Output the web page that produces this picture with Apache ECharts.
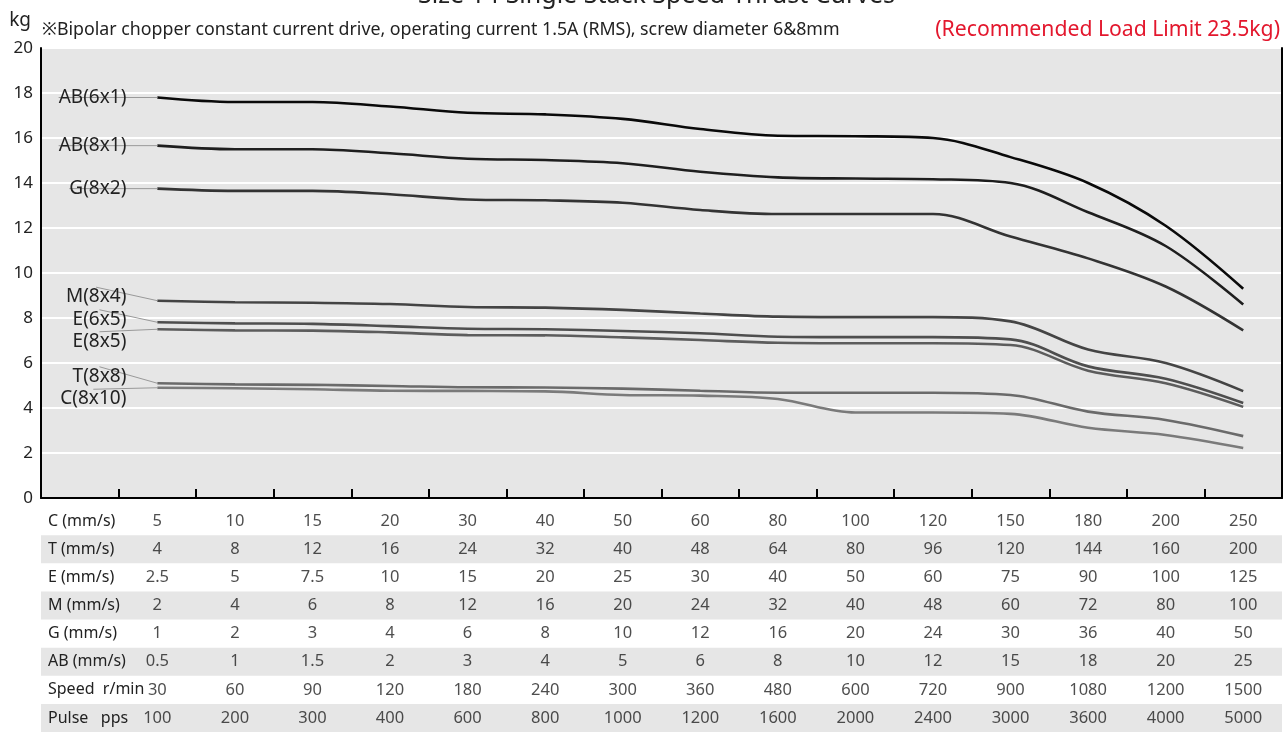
<!DOCTYPE html>
<html>
<head>
<meta charset="utf-8">
<script src="https://cdn.jsdelivr.net/npm/echarts@6/dist/echarts.min.js"></script>
<style>
  html, body { margin: 0; padding: 0; background: #fff; }
  #chart { width: 1283px; height: 732px; }
</style>
</head>
<body>
<div id="chart"></div>
<script>
// x categories (first slot is the label column)
const categories = ['', '5', '10', '15', '20', '30', '40', '50', '60', '80', '100', '120', '150', '180', '200', '250'];

// thrust curves, kg
const ab6x1 = [17.8, 17.6, 17.6, 17.4, 17.12, 17.05, 16.85, 16.4, 16.1, 16.08, 16.0, 15.15, 14.0, 12.1, 9.3];
const ab8x1 = [15.66, 15.5, 15.5, 15.32, 15.08, 15.02, 14.88, 14.5, 14.25, 14.2, 14.17, 14.0, 12.7, 11.2, 8.6];
const g8x2 = [13.75, 13.65, 13.65, 13.5, 13.27, 13.23, 13.12, 12.8, 12.62, 12.62, 12.62, 11.62, 10.65, 9.4, 7.45];
const m8x4 = [8.77, 8.7, 8.68, 8.62, 8.49, 8.46, 8.36, 8.2, 8.06, 8.04, 8.04, 7.85, 6.6, 6.0, 4.75];
const e6x5 = [7.81, 7.76, 7.74, 7.64, 7.52, 7.5, 7.42, 7.32, 7.17, 7.15, 7.15, 7.05, 5.85, 5.3, 4.22];
const e8x5 = [7.5, 7.45, 7.44, 7.36, 7.24, 7.23, 7.14, 7.02, 6.9, 6.88, 6.88, 6.8, 5.66, 5.1, 4.05];
const t8x8 = [5.1, 5.05, 5.03, 4.98, 4.92, 4.91, 4.86, 4.77, 4.68, 4.68, 4.68, 4.58, 3.84, 3.47, 2.75];
const c8x10 = [4.9, 4.88, 4.83, 4.77, 4.76, 4.74, 4.58, 4.55, 4.4, 3.8, 3.8, 3.74, 3.12, 2.8, 2.22];

// table below the chart
const rowNames = ['C (mm/s)', 'T (mm/s)', 'E (mm/s)', 'M (mm/s)', 'G (mm/s)', 'AB (mm/s)', 'Speed  r/min', 'Pulse   pps'];
const cRow = ['5', '10', '15', '20', '30', '40', '50', '60', '80', '100', '120', '150', '180', '200', '250'];
const tRow = ['4', '8', '12', '16', '24', '32', '40', '48', '64', '80', '96', '120', '144', '160', '200'];
const eRow = ['2.5', '5', '7.5', '10', '15', '20', '25', '30', '40', '50', '60', '75', '90', '100', '125'];
const mRow = ['2', '4', '6', '8', '12', '16', '20', '24', '32', '40', '48', '60', '72', '80', '100'];
const gRow = ['1', '2', '3', '4', '6', '8', '10', '12', '16', '20', '24', '30', '36', '40', '50'];
const abRow = ['0.5', '1', '1.5', '2', '3', '4', '5', '6', '8', '10', '12', '15', '18', '20', '25'];
const speedRow = ['30', '60', '90', '120', '180', '240', '300', '360', '480', '600', '720', '900', '1080', '1200', '1500'];
const pulseRow = ['100', '200', '300', '400', '600', '800', '1000', '1200', '1600', '2000', '2400', '3000', '3600', '4000', '5000'];

const font = '"Noto Sans", sans-serif';

const curves = [
  { name: 'AB(6x1)', data: ab6x1, color: '#0a0a0a', dy: 0 },
  { name: 'AB(8x1)', data: ab8x1, color: '#1e1e1e', dy: 0 },
  { name: 'G(8x2)', data: g8x2, color: '#333333', dy: 0 },
  { name: 'M(8x4)', data: m8x4, color: '#444444', dy: -4 },
  { name: 'E(6x5)', data: e6x5, color: '#4e4e4e', dy: -3 },
  { name: 'E(8x5)', data: e8x5, color: '#5c5c5c', dy: 12 },
  { name: 'T(8x8)', data: t8x8, color: '#6a6a6a', dy: -7 },
  { name: 'C(8x10)', data: c8x10, color: '#7a7a7a', dy: 11 }
];

const lineSeries = curves.map(c => ({
  name: c.name,
  type: 'line',
  xAxisIndex: 0,
  yAxisIndex: 0,
  smooth: 0.35,
  symbol: 'circle',
  symbolSize: 0,
  showSymbol: true,
  lineStyle: { color: c.color, width: 2.6 },
  itemStyle: { color: c.color },
  label: { show: false },
  labelLine: { show: true, lineStyle: { color: '#999', width: 1 } },
  labelLayout: { dy: c.dy },
  data: ['-'].concat(c.data.map((v, i) => i === 0 ? {
    value: v,
    label: {
      show: true, position: 'left', distance: 31,
      formatter: c.name, color: '#222', fontSize: 19, fontFamily: font
    }
  } : v)),
  z: 3
}));

// table cells as scatter labels
const tableRows = [cRow, tRow, eRow, mRow, gRow, abRow, speedRow, pulseRow];
const cells = [];
tableRows.forEach((row, r) => {
  row.forEach((txt, i) => cells.push([i + 1, r, txt]));
});

const chart = echarts.init(document.getElementById('chart'));
chart.setOption({
  backgroundColor: '#fff',
  animation: false,
  title: [
    { text: 'Size 14 Single Stack Speed-Thrust Curves', left: 413, top: -22,
      textStyle: { fontSize: 25, fontWeight: 'normal', color: '#222', fontFamily: font } },
    { text: '※Bipolar chopper constant current drive, operating current 1.5A (RMS), screw diameter 6&8mm',
      left: 37, top: 16,
      textStyle: { fontSize: 17.8, fontWeight: 'normal', color: '#222', fontFamily: font } },
    { text: '(Recommended Load Limit 23.5kg)', right: -2, top: 14,
      textStyle: { fontSize: 21.2, fontWeight: 'normal', color: '#e3172d', fontFamily: font } }
  ],
  grid: [
    { left: 41, right: 1, top: 48, bottom: 234, show: true, backgroundColor: '#e6e6e6', borderWidth: 0 },
    { left: 41, right: 1, top: 507, height: 229 }
  ],
  xAxis: [
    {
      gridIndex: 0, type: 'category', data: categories, boundaryGap: true,
      axisLine: { show: true, lineStyle: { color: '#000', width: 2 } },
      axisTick: { show: true, inside: true, length: 9, lineStyle: { color: '#000', width: 2 } },
      axisLabel: { show: false },
      splitLine: { show: false }
    },
    {
      gridIndex: 1, type: 'category', data: categories, boundaryGap: true, show: false
    }
  ],
  yAxis: [
    {
      gridIndex: 0, type: 'value', min: 0, max: 20, interval: 2,
      name: 'kg', nameLocation: 'end', nameGap: 27,
      nameTextStyle: { fontSize: 19, color: '#222', fontFamily: font, align: 'right', verticalAlign: 'middle', padding: [0, 10, 0, 0] },
      axisLine: { show: true, lineStyle: { color: '#000', width: 2 } },
      axisTick: { show: false },
      axisLabel: { fontSize: 17, color: '#222', fontFamily: font, margin: 8 },
      splitLine: { show: true, lineStyle: { color: '#fff', width: 2 } }
    },
    {
      gridIndex: 0, type: 'value', min: 0, max: 20, interval: 2, position: 'right',
      axisLine: { show: true, lineStyle: { color: '#000', width: 2 } },
      axisTick: { show: false }, axisLabel: { show: false }, splitLine: { show: false }
    },
    {
      gridIndex: 1, type: 'category', data: rowNames, inverse: true, boundaryGap: true,
      axisLine: { show: false }, axisTick: { show: false },
      axisLabel: { inside: true, margin: 7, fontSize: 16, color: '#222', fontFamily: font },
      splitLine: { show: false },
      splitArea: { show: true, areaStyle: { color: ['rgba(0,0,0,0)', '#e6e6e6'] } }
    }
  ],
  series: lineSeries.concat([{
    type: 'scatter',
    xAxisIndex: 1,
    yAxisIndex: 2,
    symbolSize: 1,
    itemStyle: { color: 'rgba(0,0,0,0)' },
    label: {
      show: true, position: 'inside', fontSize: 16.5, color: '#222', fontFamily: font,
      formatter: p => p.data[2]
    },
    data: cells
  }])
});
</script>
</body>
</html>
